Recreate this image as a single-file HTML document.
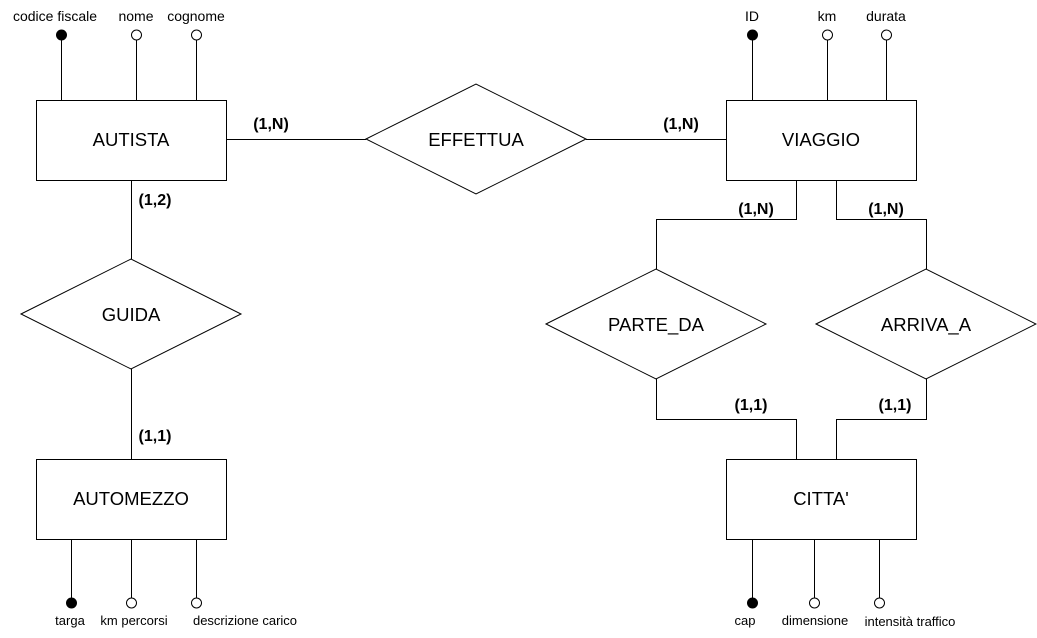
<!DOCTYPE html>
<html><head><meta charset="utf-8"><style>
html,body{margin:0;padding:0;background:#fff;}
svg{display:block;font-family:"Liberation Sans",Arial,sans-serif;}
</style></head><body>
<svg width="1037" height="638" viewBox="0 0 1037 638" xmlns="http://www.w3.org/2000/svg">
<g fill="#fff" stroke="#000" stroke-width="1">
<rect x="36.5" y="100.5" width="190" height="80"/>
<rect x="726.5" y="100.5" width="190" height="80"/>
<rect x="36.5" y="459.5" width="190" height="80"/>
<rect x="726.5" y="459.5" width="190" height="80"/>
<polygon points="366,139 476,84 586,139 476,194"/>
<polygon points="21,314 131,259 241,314 131,369"/>
<polygon points="546,324 656,269 766,324 656,379"/>
<polygon points="816,324 926,269 1036,324 926,379"/>
</g>
<g fill="none" stroke="#000" stroke-width="1">
<path d="M227 139.5H366M586 139.5H726"/>
<path d="M131.5 180V259M131.5 369V459"/>
<path d="M796.5 180V219.5H656.5V269M836.5 180V219.5H926.5V269"/>
<path d="M656.5 379V419.5H796.5V459M926.5 379V419.5H836.5V459"/>
<path d="M61.5 40V100M136.5 40V100M196.5 40V100"/>
<path d="M752.5 40V100M827.5 40V100M886.5 40V100"/>
<path d="M71.5 539V598M131.5 539V598M196.5 539V598"/>
<path d="M752.5 539V598M814.5 539V598M879.5 539V598"/>
</g>
<g stroke="#000" stroke-width="1">
<circle cx="61.5" cy="35" r="5" fill="#000"/>
<circle cx="136.5" cy="35" r="5" fill="#fff"/>
<circle cx="196.5" cy="35" r="5" fill="#fff"/>
<circle cx="752.5" cy="35" r="5" fill="#000"/>
<circle cx="827.5" cy="35" r="5" fill="#fff"/>
<circle cx="886.5" cy="35" r="5" fill="#fff"/>
<circle cx="71.5" cy="603" r="5" fill="#000"/>
<circle cx="131.5" cy="603" r="5" fill="#fff"/>
<circle cx="196.5" cy="603" r="5" fill="#fff"/>
<circle cx="752.5" cy="603" r="5" fill="#000"/>
<circle cx="814.5" cy="603" r="5" fill="#fff"/>
<circle cx="879.5" cy="603" r="5" fill="#fff"/>
</g>
<g font-size="18.5" text-anchor="middle" fill="#000">
<text x="131" y="146">AUTISTA</text>
<text x="821" y="146">VIAGGIO</text>
<text x="131" y="505">AUTOMEZZO</text>
<text x="821" y="505">CITTA'</text>
<text x="476" y="146">EFFETTUA</text>
<text x="131" y="321">GUIDA</text>
<text x="656" y="331">PARTE_DA</text>
<text x="926" y="331">ARRIVA_A</text>
</g>
<g font-size="14" text-anchor="middle" fill="#000">
<text x="55" y="21">codice fiscale</text>
<text x="136" y="21">nome</text>
<text x="196" y="21">cognome</text>
<text x="752" y="21">ID</text>
<text x="827" y="21">km</text>
<text x="886" y="21">durata</text>
</g>
<g font-size="13" text-anchor="middle" fill="#000">
<text x="70" y="625">targa</text>
<text x="134" y="625">km percorsi</text>
<text x="245" y="625">descrizione carico</text>
<text x="745" y="625">cap</text>
<text x="815" y="625">dimensione</text>
<text x="910" y="626">intensità traffico</text>
</g>
<g font-size="16" font-weight="bold" text-anchor="middle" fill="#000">
<text x="271" y="129">(1,N)</text>
<text x="681" y="129">(1,N)</text>
<text x="155" y="205">(1,2)</text>
<text x="155" y="441">(1,1)</text>
<text x="756" y="214">(1,N)</text>
<text x="886" y="214">(1,N)</text>
<text x="751" y="410">(1,1)</text>
<text x="895" y="410">(1,1)</text>
</g>
</svg>
</body></html>
